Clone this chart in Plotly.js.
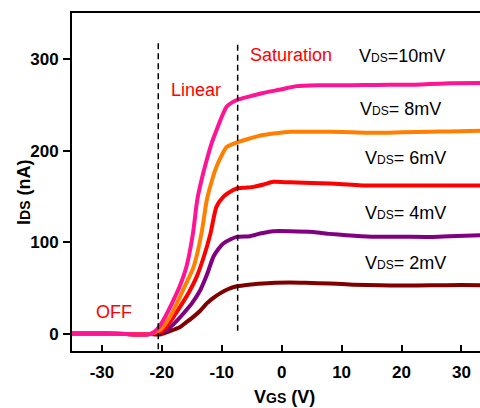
<!DOCTYPE html>
<html>
<head>
<meta charset="utf-8">
<script src="https://cdn.plot.ly/plotly-3.0.1.min.js"></script>
<style>html,body{margin:0;padding:0;background:#fff;}#chart{width:480px;height:408px;}</style>
</head>
<body>
<div id="chart"></div>
<script>
// ---- data ----
const seriesNames = ["VDS=2mV", "VDS=4mV", "VDS=6mV", "VDS=8mV", "VDS=10mV"];
const seriesColors = ["#800000", "#800080", "#FF0000", "#FF8000", "#FF1493"];

const vgs2 = [-35,-30,-26,-23,-22,-21,-20.3,-19,-17,-16,-14.8,-13.6,-12.5,-11.4,-10.3,-9,-7.5,-5.5,-3.1,-1,1.4,4,8.1,12,16.4,20,25,30,33.1];
const ids2 = [0,0,-0.5,-1,-0.5,-1,-1,2,7,12,18,25,33,39,44,48.5,51.7,53.5,54.7,55.5,55.8,55.5,54.7,53.5,52.8,52.5,52.8,53,52.8];

const vgs4 = [-35,-30,-26,-23,-22,-21,-19.2,-17.8,-16.4,-15,-13.6,-12.5,-11.4,-10.5,-9.75,-8.6,-7.5,-5.3,-3.6,-1.4,1.5,5.3,8,10.8,15,20,24.8,28,33.1];
const ids4 = [0,0,-0.5,-1,-0.5,0,3.6,12,22,33,47.4,64,84,93,98.5,102.8,105.7,106.5,109.4,112,112,111,109,107.5,106,106,105.7,106.5,107.5];

const vgs6 = [-35,-30,-26,-23,-22,-21,-19.8,-18.5,-17,-15.5,-14.2,-13,-11.9,-10.9,-9.75,-8.6,-7.5,-6,-4.7,-3,-1.4,0.5,2.5,5,8.1,11,13.6,18,22,27,33.1];
const ids6 = [0,0,-0.5,-1,-0.5,0.5,3.6,14,29,45,62,84,109,138.5,149.5,155,158.6,159.5,160.4,163,165.9,165.5,165.2,164.5,164,163,162,162,162,162,162];

const vgs8 = [-35,-30,-26,-23,-22,-21.3,-20.3,-19.5,-18.5,-17.5,-16.3,-14.7,-13.4,-12.5,-11.7,-10.9,-10,-9.2,-8.2,-7.2,-5.5,-3.1,-1,1.4,5,8.1,12,16.4,20,24.8,28,33.1];
const ids8 = [0,0,-0.5,-1,-0.5,1,4,10,20,33,50,73,109,146,166,182,195,204,207,209.6,213,217,219,220.6,220.6,220.6,220,219.5,220,220.6,221,221.7];

const vgs10 = [-35,-30,-26,-23,-22,-21.5,-20.9,-20,-19,-18.1,-17,-15.9,-14.8,-14.1,-13.3,-12.5,-11.7,-10.9,-10,-9.2,-8.2,-7.2,-5.5,-3.1,0,2.5,6,10,13.6,18,22,24.8,28,33.1];
const ids10 = [0,0,-0.5,-1,-0.5,1,4,12,24,36,52,73,110,146,170,190,208,222,237,248,253,256,259,263,267,270.5,271.5,271.5,271.6,272,272,272.7,273.5,274];

const xTicks = [-30,-20,-10,0,10,20,30];
const yTicks = [0,100,200,300];

// region boundaries (dashed lines)
const boundaryX = [-20.6, -7.35];
const boundaryTop = [317.6, 317.6];
const boundaryBottom = [-17, 3];

// text labels
const regionLabels = ["OFF", "Linear", "Saturation"];
const regionLabelX = [-28.0, -14.3, 1.6];
const regionLabelY = [23.5, 266, 304];

const vdsLabels = ["V<span style='font-size:12px'>DS</span>=10mV", "V<span style='font-size:12px'>DS</span>= 8mV",
                   "V<span style='font-size:12px'>DS</span>= 6mV", "V<span style='font-size:12px'>DS</span>= 4mV",
                   "V<span style='font-size:12px'>DS</span>= 2mV"];
const vdsLabelX = [20.0, 19.8, 20.6, 20.6, 20.6];
const vdsLabelY = [303, 246, 191.4, 131.6, 77.4];

// ---- build ----
const xs = [vgs2, vgs4, vgs6, vgs8, vgs10];
const ys = [ids2, ids4, ids6, ids8, ids10];
const traces = xs.map((x, i) => ({
  x: x, y: ys[i], type: "scatter", mode: "lines", name: seriesNames[i],
  line: {color: seriesColors[i], width: 4, shape: "spline", smoothing: 0.6},
  hoverinfo: "skip"
}));

const FONT = "Arial, 'Liberation Sans', sans-serif";
const shapes = boundaryX.map((bx, i) => ({
  type: "line", xref: "x", yref: "y", x0: bx, x1: bx, y0: boundaryBottom[i], y1: boundaryTop[i],
  line: {color: "#000", width: 1.5, dash: "6px,4px"}
}));

const annotations = [];
regionLabels.forEach((t, i) => annotations.push({
  x: regionLabelX[i], y: regionLabelY[i], xref: "x", yref: "y", text: t, showarrow: false,
  font: {family: FONT, size: 18, color: "#FF0000"}, xanchor: "center", yanchor: "middle"
}));
vdsLabels.forEach((t, i) => annotations.push({
  x: vdsLabelX[i], y: vdsLabelY[i], xref: "x", yref: "y", text: t, showarrow: false,
  font: {family: FONT, size: 18, color: "#000"}, xanchor: "center", yanchor: "middle"
}));

const W = 480, H = 408, L = 72, T = 13, B = 57, R = 0;
const pw = W - L - R, ph = H - T - B;
// axis titles, placed by pixel then converted to paper coords
annotations.push({
  x: (284 - L) / pw, y: (H - B - 397) / ph, xref: "paper", yref: "paper",
  text: "<b>V<span style='font-size:14px'>GS</span> (V)</b>",
  showarrow: false, font: {family: FONT, size: 18, color: "#000"}, xanchor: "center", yanchor: "middle"
});
annotations.push({
  x: (24 - L) / pw, y: (H - B - 193) / ph, xref: "paper", yref: "paper",
  text: "<b>I<span style='font-size:14px'>DS</span> (nA)</b>", textangle: -90,
  showarrow: false, font: {family: FONT, size: 18, color: "#000"}, xanchor: "center", yanchor: "middle"
});

const layout = {
  width: W, height: H,
  margin: {l: L, r: R, t: T, b: B},
  paper_bgcolor: "#fff", plot_bgcolor: "#fff",
  showlegend: false,
  font: {family: FONT, color: "#000"},
  xaxis: {
    range: [-35, 33.1], tickvals: xTicks, ticktext: xTicks.map(String),
    showgrid: false, zeroline: false, showline: true, linecolor: "#000", linewidth: 2,
    mirror: true, ticks: "inside", ticklen: 6, tickwidth: 2, tickcolor: "#000",
    ticklabelstandoff: 5,
    tickfont: {family: FONT, size: 17, color: "#000", weight: "bold"}
  },
  yaxis: {
    range: [-19, 350.4], tickvals: yTicks, ticktext: yTicks.map(String),
    showgrid: false, zeroline: false, showline: true, linecolor: "#000", linewidth: 2,
    ticks: "outside", ticklen: 7, tickwidth: 2, tickcolor: "#000",
    ticklabelstandoff: 1,
    tickfont: {family: FONT, size: 17, color: "#000", weight: "bold"}
  },
  shapes: shapes,
  annotations: annotations
};

Plotly.newPlot("chart", traces, layout, {displayModeBar: false, staticPlot: true});
</script>
</body>
</html>
